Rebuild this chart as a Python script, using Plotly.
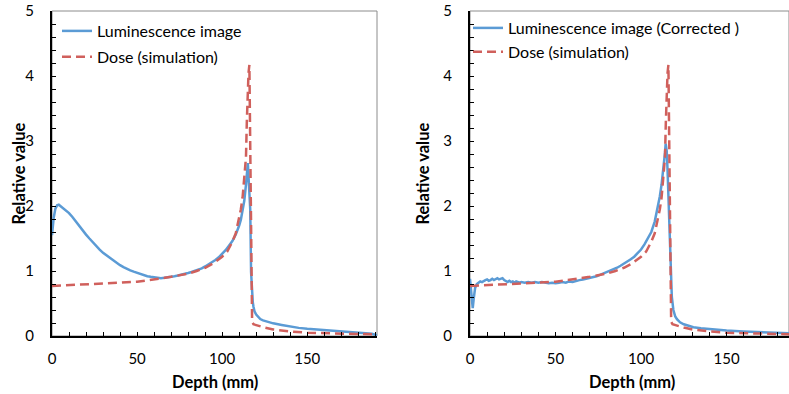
import plotly.graph_objects as go

# ---------------- data ----------------
lum_depth = [0, 1, 2, 3, 4, 5, 6, 8, 10, 12, 14, 16, 18, 20, 22, 24, 26, 28, 30, 32, 34, 36, 38,
             40, 42, 44, 46, 48, 50, 52, 54, 56, 58, 60, 62, 64, 66, 68, 70, 72, 74, 76, 78, 80,
             82, 84, 86, 88, 90, 92, 94, 96, 98, 100, 102, 104, 106, 108, 109, 110, 111, 112, 113,
             114, 114.6, 115.1, 115.6, 116, 116.5, 117, 117.5, 118, 118.4, 119, 120, 121.4, 122.4,
             124, 126, 128, 130, 135, 140, 145, 150, 155, 160, 165, 170, 175, 180, 185, 188, 190, 191]
lum_value = [1.55, 1.82, 1.96, 2.01, 2.02, 2.00, 1.98, 1.94, 1.89, 1.83, 1.76, 1.69, 1.62, 1.56,
             1.50, 1.44, 1.39, 1.33, 1.28, 1.24, 1.20, 1.16, 1.12, 1.09, 1.06, 1.03, 1.01, 0.99,
             0.97, 0.95, 0.93, 0.92, 0.91, 0.90, 0.895, 0.89, 0.895, 0.90, 0.91, 0.92, 0.93, 0.94,
             0.955, 0.97, 0.985, 1.00, 1.02, 1.04, 1.07, 1.10, 1.13, 1.17, 1.21, 1.26, 1.32, 1.39,
             1.46, 1.56, 1.62, 1.70, 1.79, 1.92, 2.08, 2.33, 2.52, 2.66, 2.40, 2.20, 1.95, 0.98,
             0.70, 0.52, 0.45, 0.38, 0.33, 0.29, 0.26, 0.24, 0.225, 0.21, 0.195, 0.17, 0.145,
             0.125, 0.11, 0.10, 0.09, 0.08, 0.07, 0.065, 0.055, 0.045, 0.035, 0.02, 0.01]

dose_depth = [0, 10, 20, 30, 40, 50, 55, 60, 65, 70, 75, 80, 85, 90, 95, 100, 103, 106, 108, 110,
              111, 112, 113, 114, 114.5, 115, 115.5, 116, 116.4, 116.8, 117.2, 117.6, 118.4, 119,
              120, 122, 125, 130, 135, 140, 150, 160, 170, 180, 190]
dose_value = [0.77, 0.78, 0.79, 0.80, 0.82, 0.835, 0.85, 0.87, 0.89, 0.91, 0.93, 0.96, 1.00, 1.05,
              1.12, 1.22, 1.30, 1.45, 1.58, 1.80, 1.95, 2.13, 2.40, 2.75, 3.30, 3.75, 4.05, 4.17,
              3.20, 1.80, 0.60, 0.22, 0.18, 0.175, 0.17, 0.15, 0.13, 0.10, 0.08, 0.07, 0.05, 0.045,
              0.04, 0.035, 0.025]

corr_depth = [0, 0.5, 1.0, 1.6, 2.2, 3, 4, 5, 6, 7, 8, 9, 10, 11, 12, 13, 14, 15, 16, 17, 18, 19,
              20, 21, 22, 23, 24, 25, 26, 27, 28, 29, 30, 32, 34, 36, 38, 40, 42, 44, 46, 48, 50,
              52, 54, 56, 58, 60, 62, 64, 66, 68, 70, 72, 74, 76, 78, 80, 82, 84, 86, 88, 90, 92,
              94, 96, 98, 100, 102, 104, 106, 108, 110, 111, 112, 113, 114, 114.4, 115, 115.5,
              116, 116.5, 117, 117.5, 118, 118.9, 120, 121, 122.8, 125, 128.6, 130.6, 135, 140,
              145, 150, 160, 170, 180, 187]
corr_value = [0.88, 0.72, 0.50, 0.43, 0.58, 0.74, 0.80, 0.82, 0.84, 0.83, 0.85, 0.86, 0.87, 0.85,
              0.86, 0.88, 0.86, 0.88, 0.89, 0.87, 0.88, 0.89, 0.86, 0.84, 0.83, 0.85, 0.83, 0.84,
              0.82, 0.84, 0.83, 0.82, 0.83, 0.82, 0.83, 0.82, 0.83, 0.82, 0.83, 0.82, 0.81, 0.82,
              0.81, 0.82, 0.83, 0.82, 0.84, 0.83, 0.85, 0.86, 0.87, 0.88, 0.89, 0.90, 0.92, 0.94,
              0.96, 0.98, 1.00, 1.02, 1.05, 1.08, 1.11, 1.14, 1.18, 1.22, 1.27, 1.33, 1.41, 1.50,
              1.60, 1.76, 2.00, 2.15, 2.33, 2.55, 2.82, 2.96, 2.85, 2.55, 2.10, 1.70, 1.20, 0.86,
              0.60, 0.40, 0.30, 0.26, 0.21, 0.18, 0.15, 0.135, 0.12, 0.105, 0.095, 0.085, 0.07,
              0.055, 0.045, 0.04]

x_ticks = [0, 50, 100, 150]
y_ticks = [0, 1, 2, 3, 4, 5]

# ---------------- figure ----------------
W, H = 789, 394
BLUE = "#5B9BD5"
RED = "#D0605C"
FONT = "Lato"

def px_x(p):
    return p / W

def px_y(p):
    return 1 - p / H

fig = go.Figure()
fig.add_trace(go.Scatter(x=lum_depth, y=lum_value, mode="lines", name="Luminescence image",
                         line=dict(color=BLUE, width=2.5), xaxis="x", yaxis="y",
                         legend="legend", legendgroup="a1"))
fig.add_trace(go.Scatter(x=dose_depth, y=dose_value, mode="lines", name="Dose (simulation)",
                         line=dict(color=RED, width=2.5, dash="9px,5px"), xaxis="x", yaxis="y",
                         legend="legend", legendgroup="a2"))
fig.add_trace(go.Scatter(x=corr_depth, y=corr_value, mode="lines",
                         name="Luminescence image (Corrected )",
                         line=dict(color=BLUE, width=2.5), xaxis="x2", yaxis="y2",
                         legend="legend2", legendgroup="b1"))
fig.add_trace(go.Scatter(x=dose_depth, y=dose_value, mode="lines", name="Dose (simulation)",
                         line=dict(color=RED, width=2.5, dash="9px,5px"), xaxis="x2", yaxis="y2",
                         legend="legend2", legendgroup="b2"))

ydom = [px_y(336), px_y(11)]

def xaxis(dom, rng, anchor):
    return dict(domain=dom, range=rng, anchor=anchor, tickvals=x_ticks, ticks="inside",
                ticklen=4, tickwidth=1, tickcolor="#000", showline=True, linecolor="#000",
                linewidth=2, showgrid=False, zeroline=False, ticklabelstandoff=8,
                automargin=False,
                tickfont=dict(family=FONT, size=15, color="#000"),
                minor=dict(dtick=10, ticks="inside", ticklen=4, tickcolor="#000", showgrid=False))

def yaxis(rng, anchor):
    return dict(domain=ydom, range=rng, anchor=anchor, tickvals=y_ticks, ticks="inside",
                ticklen=4, tickwidth=1, tickcolor="#000", showline=True, linecolor="#000",
                linewidth=2, showgrid=False, zeroline=False, ticklabelstandoff=13,
                automargin=False,
                tickfont=dict(family=FONT, size=15, color="#000"),
                minor=dict(dtick=0.2, ticks="inside", ticklen=4, tickcolor="#000", showgrid=False))

fig.update_layout(
    width=W, height=H, margin=dict(l=0, r=0, t=0, b=0, pad=0, autoexpand=False),
    paper_bgcolor="white", plot_bgcolor="white",
    xaxis=xaxis([px_x(52), px_x(377)], [0, 191], "y"),
    yaxis=yaxis([0, 5], "x"),
    xaxis2=xaxis([px_x(470), 1.0], [0, 186.5], "y2"),
    yaxis2=yaxis([0, 5], "x2"),
    legend=dict(x=px_x(57), y=px_y(14), xanchor="left", yanchor="top",
                bgcolor="rgba(0,0,0,0)", itemwidth=30, tracegroupgap=2,
                font=dict(family=FONT, size=16, color="#000")),
    legend2=dict(x=px_x(468), y=px_y(11), xanchor="left", yanchor="top",
                 bgcolor="rgba(0,0,0,0)", itemwidth=30, tracegroupgap=0,
                 font=dict(family=FONT, size=16, color="#000")),
    showlegend=True,
)

# plot-area borders (thin grey frame)
for xr, yr in (("x domain", "y domain"), ("x2 domain", "y2 domain")):
    fig.add_shape(type="rect", xref=xr, yref=yr, x0=0, x1=1, y0=0, y1=1,
                  line=dict(color="#8C8C8C", width=1), layer="below")

# axis titles
for cx in (214.5, 632):
    fig.add_annotation(x=px_x(cx), y=px_y(382), xref="paper", yref="paper",
                       xanchor="center", yanchor="middle",
                       text="<b>Depth (mm)</b>", showarrow=False,
                       font=dict(family=FONT, size=16.5, color="#000"))
for cx in (18, 422):
    fig.add_annotation(x=px_x(cx), y=px_y(173.5), xref="paper", yref="paper",
                       xanchor="center", yanchor="middle",
                       text="<b>Relative value</b>", showarrow=False, textangle=-90,
                       font=dict(family=FONT, size=16.5, color="#000"))

fig.write_html("out.html")
